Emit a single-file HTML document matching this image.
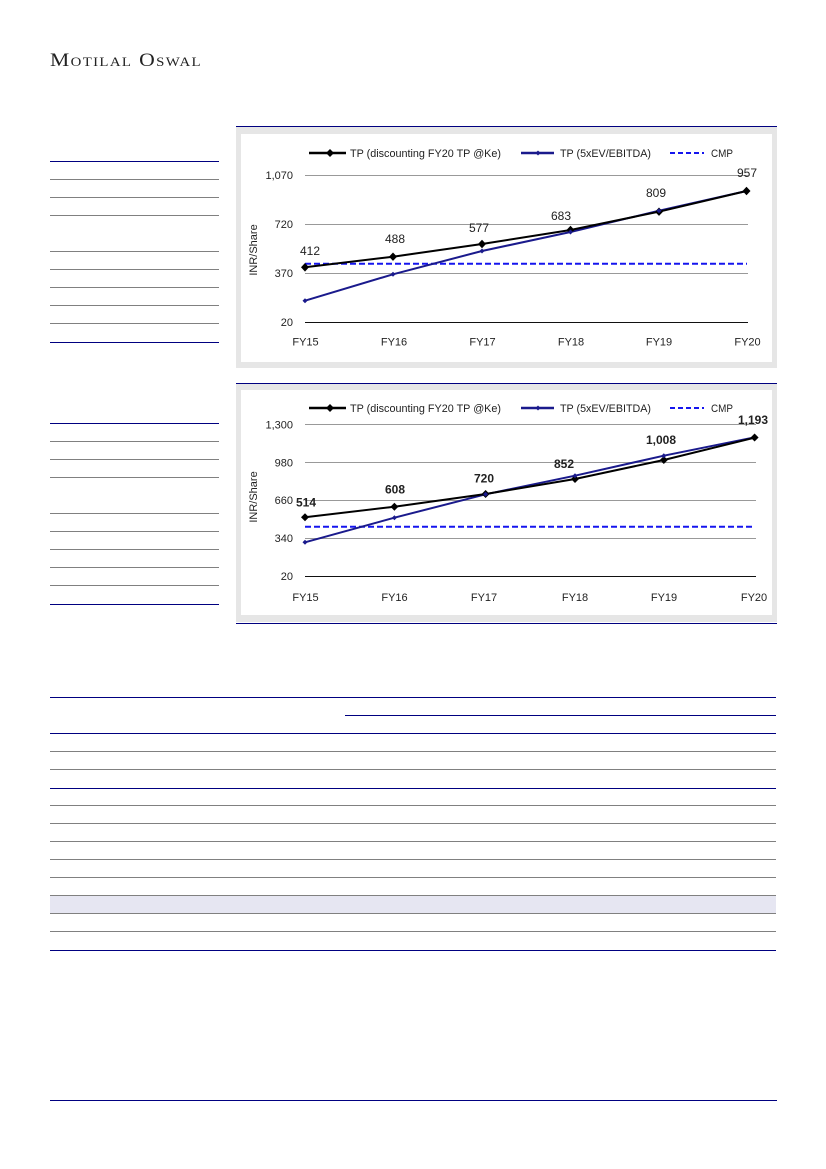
<!DOCTYPE html>
<html><head><meta charset="utf-8"><style>
html,body{margin:0;padding:0;background:#fff;}
body{width:826px;height:1169px;overflow:hidden;position:relative;}
svg{position:absolute;left:0;top:0;}
text{font-family:"Liberation Sans",sans-serif;}
</style></head><body>
<svg width="826" height="1169" viewBox="0 0 826 1169" xmlns="http://www.w3.org/2000/svg">
<!-- Logo -->
<text x="50" y="66" style="font-family:'Liberation Serif',serif;font-variant:small-caps;font-size:19px;letter-spacing:1.2px" fill="#222" textLength="152" lengthAdjust="spacingAndGlyphs">Motilal Oswal</text>

<!-- Left table 1 -->
<g stroke-width="1" shape-rendering="crispEdges">
<line x1="50" y1="161.5" x2="219" y2="161.5" stroke="#000080"/>
<line x1="50" y1="179.5" x2="219" y2="179.5" stroke="#808080"/>
<line x1="50" y1="197.5" x2="219" y2="197.5" stroke="#808080"/>
<line x1="50" y1="215.5" x2="219" y2="215.5" stroke="#808080"/>
<line x1="50" y1="251.5" x2="219" y2="251.5" stroke="#808080"/>
<line x1="50" y1="269.5" x2="219" y2="269.5" stroke="#808080"/>
<line x1="50" y1="287.5" x2="219" y2="287.5" stroke="#808080"/>
<line x1="50" y1="305.5" x2="219" y2="305.5" stroke="#808080"/>
<line x1="50" y1="323.5" x2="219" y2="323.5" stroke="#808080"/>
<line x1="50" y1="342.5" x2="219" y2="342.5" stroke="#000080"/>
<!-- Left table 2 -->
<line x1="50" y1="423.5" x2="219" y2="423.5" stroke="#000080"/>
<line x1="50" y1="441.5" x2="219" y2="441.5" stroke="#808080"/>
<line x1="50" y1="459.5" x2="219" y2="459.5" stroke="#808080"/>
<line x1="50" y1="477.5" x2="219" y2="477.5" stroke="#808080"/>
<line x1="50" y1="513.5" x2="219" y2="513.5" stroke="#808080"/>
<line x1="50" y1="531.5" x2="219" y2="531.5" stroke="#808080"/>
<line x1="50" y1="549.5" x2="219" y2="549.5" stroke="#808080"/>
<line x1="50" y1="567.5" x2="219" y2="567.5" stroke="#808080"/>
<line x1="50" y1="585.5" x2="219" y2="585.5" stroke="#808080"/>
<line x1="50" y1="604.5" x2="219" y2="604.5" stroke="#000080"/>
</g>

<!-- Chart 1 frame -->
<line x1="236" y1="126.5" x2="777" y2="126.5" stroke="#000080" stroke-width="1" shape-rendering="crispEdges"/>
<rect x="236" y="127" width="541" height="241" fill="#e6e6e6"/>
<rect x="241" y="134" width="531" height="228" fill="#fff"/>

<!-- Chart 1 grid -->
<g stroke-width="1" shape-rendering="crispEdges">
<line x1="305" y1="175.5" x2="748" y2="175.5" stroke="#999"/>
<line x1="305" y1="224.5" x2="748" y2="224.5" stroke="#999"/>
<line x1="305" y1="273.5" x2="748" y2="273.5" stroke="#999"/>
<line x1="305" y1="322.5" x2="748" y2="322.5" stroke="#111"/>
</g>
<g font-size="11" fill="#222" text-anchor="end">
<text x="293" y="179">1,070</text>
<text x="293" y="228">720</text>
<text x="293" y="277">370</text>
<text x="293" y="326">20</text>
</g>
<text transform="translate(257,250) rotate(-90)" font-size="11" fill="#222" text-anchor="middle">INR/Share</text>
<g font-size="11" fill="#222" text-anchor="middle">
<text x="305.5" y="345.5">FY15</text>
<text x="394" y="345.5">FY16</text>
<text x="482.5" y="345.5">FY17</text>
<text x="571" y="345.5">FY18</text>
<text x="659" y="345.5">FY19</text>
<text x="747.5" y="345.5">FY20</text>
</g>
<!-- legend 1 -->
<line x1="309" y1="153" x2="346" y2="153" stroke="#000" stroke-width="2.5"/>
<path d="M330 149 L334 153 L330 157 L326 153 Z" fill="#000"/>
<text x="350" y="157" font-size="11" fill="#222" textLength="151" lengthAdjust="spacingAndGlyphs">TP (discounting  FY20 TP @Ke)</text>
<line x1="521" y1="153" x2="554" y2="153" stroke="#1a1a8c" stroke-width="2.5"/>
<path d="M538 150.5 L540.5 153 L538 155.5 L535.5 153 Z" fill="#1a1a8c"/>
<text x="560" y="157" font-size="11" fill="#222" textLength="91" lengthAdjust="spacingAndGlyphs">TP (5xEV/EBITDA)</text>
<line x1="670" y1="153" x2="704" y2="153" stroke="#1515ee" stroke-width="2" stroke-dasharray="5,3"/>
<text x="711" y="157" font-size="11" fill="#222" textLength="22" lengthAdjust="spacingAndGlyphs">CMP</text>
<!-- series 1 -->
<line x1="305" y1="263.7" x2="747" y2="263.7" stroke="#1515ee" stroke-width="2" stroke-dasharray="6,3"/>
<polyline points="305,300.7 393,274.3 482,251 570.5,232 659,210.7 746.5,191" fill="none" stroke="#1a1a8c" stroke-width="2"/>
<polyline points="305,267.3 393,256.7 482,244 570.5,230 659,211.7 746.5,191" fill="none" stroke="#000" stroke-width="2"/>
<g fill="#000">
<path d="M305 263 L309 267.3 L305 271.6 L301 267.3 Z"/>
<path d="M393 252.5 L397 256.7 L393 260.9 L389 256.7 Z"/>
<path d="M482 239.8 L486 244 L482 248.2 L478 244 Z"/>
<path d="M570.5 225.8 L574.5 230 L570.5 234.2 L566.5 230 Z"/>
<path d="M659 207.5 L663 211.7 L659 215.9 L655 211.7 Z"/>
<path d="M746.5 186.8 L750.5 191 L746.5 195.2 L742.5 191 Z"/>
</g>
<g fill="#1a1a8c">
<path d="M305 298.2 L307.5 300.7 L305 303.2 L302.5 300.7 Z"/>
<path d="M393 271.8 L395.5 274.3 L393 276.8 L390.5 274.3 Z"/>
<path d="M482 248.5 L484.5 251 L482 253.5 L479.5 251 Z"/>
<path d="M570.5 229.5 L573 232 L570.5 234.5 L568 232 Z"/>
<path d="M659 208.2 L661.5 210.7 L659 213.2 L656.5 210.7 Z"/>
</g>
<g font-size="12" fill="#222" text-anchor="middle">
<text x="310" y="255">412</text>
<text x="395" y="243">488</text>
<text x="479" y="232">577</text>
<text x="561" y="220">683</text>
<text x="656" y="197">809</text>
<text x="747" y="177">957</text>
</g>

<!-- Chart 2 frame -->
<line x1="236" y1="383.5" x2="777" y2="383.5" stroke="#000080" stroke-width="1" shape-rendering="crispEdges"/>
<rect x="236" y="384" width="541" height="238" fill="#e6e6e6"/>
<rect x="241" y="390" width="531" height="225" fill="#fff"/>
<line x1="236" y1="623.5" x2="777" y2="623.5" stroke="#000080" stroke-width="1" shape-rendering="crispEdges"/>

<g stroke-width="1" shape-rendering="crispEdges">
<line x1="305" y1="424.5" x2="756" y2="424.5" stroke="#999"/>
<line x1="305" y1="462.5" x2="756" y2="462.5" stroke="#999"/>
<line x1="305" y1="500.5" x2="756" y2="500.5" stroke="#999"/>
<line x1="305" y1="538.5" x2="756" y2="538.5" stroke="#999"/>
<line x1="305" y1="576.5" x2="756" y2="576.5" stroke="#111"/>
</g>
<g font-size="11" fill="#222" text-anchor="end">
<text x="293" y="428.3">1,300</text>
<text x="293" y="466.3">980</text>
<text x="293" y="504">660</text>
<text x="293" y="542">340</text>
<text x="293" y="580">20</text>
</g>
<text transform="translate(257,497) rotate(-90)" font-size="11" fill="#222" text-anchor="middle">INR/Share</text>
<g font-size="11" fill="#222" text-anchor="middle">
<text x="305.5" y="601">FY15</text>
<text x="394.5" y="601">FY16</text>
<text x="484" y="601">FY17</text>
<text x="575" y="601">FY18</text>
<text x="664" y="601">FY19</text>
<text x="754" y="601">FY20</text>
</g>
<!-- legend 2 -->
<line x1="309" y1="408" x2="346" y2="408" stroke="#000" stroke-width="2.5"/>
<path d="M330 404 L334 408 L330 412 L326 408 Z" fill="#000"/>
<text x="350" y="412" font-size="11" fill="#222" textLength="151" lengthAdjust="spacingAndGlyphs">TP (discounting  FY20 TP @Ke)</text>
<line x1="521" y1="408" x2="554" y2="408" stroke="#1a1a8c" stroke-width="2.5"/>
<path d="M538 405.5 L540.5 408 L538 410.5 L535.5 408 Z" fill="#1a1a8c"/>
<text x="560" y="412" font-size="11" fill="#222" textLength="91" lengthAdjust="spacingAndGlyphs">TP (5xEV/EBITDA)</text>
<line x1="670" y1="408" x2="704" y2="408" stroke="#1515ee" stroke-width="2" stroke-dasharray="5,3"/>
<text x="711" y="412" font-size="11" fill="#222" textLength="22" lengthAdjust="spacingAndGlyphs">CMP</text>
<!-- series 2 -->
<line x1="305" y1="526.7" x2="754" y2="526.7" stroke="#1515ee" stroke-width="2" stroke-dasharray="6,3"/>
<polyline points="305,542.3 394.4,517.7 485.6,494.3 575,475.7 663.8,455.7 754.6,437.3" fill="none" stroke="#1a1a8c" stroke-width="2"/>
<polyline points="305,517.3 394.4,506.7 485.6,494 575,479 663.8,460 754.6,437.7" fill="none" stroke="#000" stroke-width="2"/>
<g fill="#000">
<path d="M305 513.3 L309 517.3 L305 521.3 L301 517.3 Z"/>
<path d="M394.4 502.7 L398.4 506.7 L394.4 510.7 L390.4 506.7 Z"/>
<path d="M485.6 490 L489.6 494 L485.6 498 L481.6 494 Z"/>
<path d="M575 475 L579 479 L575 483 L571 479 Z"/>
<path d="M663.8 456 L667.8 460 L663.8 464 L659.8 460 Z"/>
<path d="M754.6 433.5 L758.6 437.5 L754.6 441.5 L750.6 437.5 Z"/>
</g>
<g fill="#1a1a8c">
<path d="M305 539.8 L307.5 542.3 L305 544.8 L302.5 542.3 Z"/>
<path d="M394.4 515.2 L396.9 517.7 L394.4 520.2 L391.9 517.7 Z"/>
<path d="M485.6 491.8 L488.1 494.3 L485.6 496.8 L483.1 494.3 Z"/>
<path d="M575 473.2 L577.5 475.7 L575 478.2 L572.5 475.7 Z"/>
<path d="M663.8 453.2 L666.3 455.7 L663.8 458.2 L661.3 455.7 Z"/>
</g>
<g font-size="12" font-weight="bold" fill="#222" text-anchor="middle">
<text x="306" y="506.5">514</text>
<text x="395" y="493.5">608</text>
<text x="484" y="482.5">720</text>
<text x="564" y="468">852</text>
<text x="661" y="444">1,008</text>
<text x="753" y="424">1,193</text>
</g>

<!-- Bottom table -->
<rect x="50" y="896" width="726" height="17" fill="#e6e6f2"/>
<g stroke-width="1" shape-rendering="crispEdges">
<line x1="50" y1="697.5" x2="776" y2="697.5" stroke="#000080"/>
<line x1="345" y1="715.5" x2="776" y2="715.5" stroke="#000080"/>
<line x1="50" y1="733.5" x2="776" y2="733.5" stroke="#000080"/>
<line x1="50" y1="751.5" x2="776" y2="751.5" stroke="#808080"/>
<line x1="50" y1="769.5" x2="776" y2="769.5" stroke="#808080"/>
<line x1="50" y1="788.5" x2="776" y2="788.5" stroke="#000080"/>
<line x1="50" y1="805.5" x2="776" y2="805.5" stroke="#808080"/>
<line x1="50" y1="823.5" x2="776" y2="823.5" stroke="#808080"/>
<line x1="50" y1="841.5" x2="776" y2="841.5" stroke="#808080"/>
<line x1="50" y1="859.5" x2="776" y2="859.5" stroke="#808080"/>
<line x1="50" y1="877.5" x2="776" y2="877.5" stroke="#808080"/>
<line x1="50" y1="895.5" x2="776" y2="895.5" stroke="#808080"/>
<line x1="50" y1="913.5" x2="776" y2="913.5" stroke="#808080"/>
<line x1="50" y1="931.5" x2="776" y2="931.5" stroke="#808080"/>
<line x1="50" y1="950.5" x2="776" y2="950.5" stroke="#000080"/>
</g>
<!-- Footer line -->
<line x1="50" y1="1100.5" x2="777" y2="1100.5" stroke="#000080" stroke-width="1" shape-rendering="crispEdges"/>
</svg>
</body></html>
